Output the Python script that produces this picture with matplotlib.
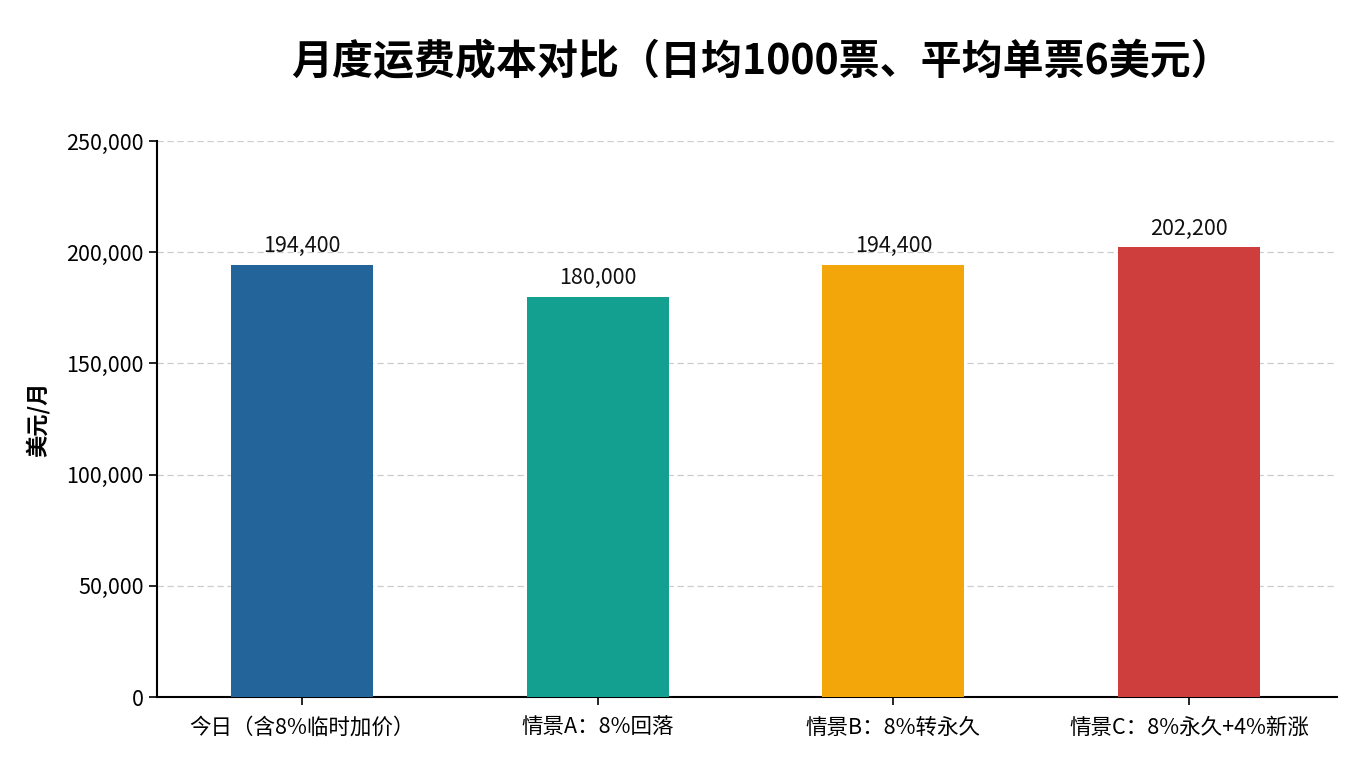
import matplotlib
matplotlib.use("Agg")
import matplotlib.pyplot as plt
from matplotlib.ticker import FuncFormatter

plt.rcParams['font.family'] = ['Noto Sans CJK SC', 'DejaVu Sans']

categories = ["今日（含8%临时加价）", "情景A：8%回落", "情景B：8%转永久", "情景C：8%永久+4%新涨"]
values = [194400, 180000, 194400, 202200]
colors = ["#23649A", "#14A090", "#F2A60A", "#CD3E3D"]
yticks = [0, 50000, 100000, 150000, 200000, 250000]

fig = plt.figure(figsize=(13.6, 7.68), dpi=100)
ax = fig.add_axes([157/1360, 1-697/768, (1337-157)/1360, (697-141)/768])

x = list(range(len(categories)))
bars = ax.bar(x, values, width=0.48, color=colors, zorder=3)
for xi, v in zip(x, values):
    ax.text(xi, v + 3500, f"{v:,}", ha="center", va="bottom", fontsize=15.5, color="#111111")

ax.set_xlim(-0.49, 3.5)
ax.set_ylim(0, 250000)
ax.set_yticks(yticks)
ax.yaxis.set_major_formatter(FuncFormatter(lambda v, p: f"{int(v):,}"))
ax.set_xticks(x)
ax.set_xticklabels(categories, fontsize=15.5)
ax.tick_params(axis="y", labelsize=15.5, length=6, width=1.2)
ax.tick_params(axis="x", length=6, width=1.2, pad=8)
ax.grid(axis="y", linestyle=(0, (5, 3)), color="#cccccc", linewidth=0.9, zorder=0)
for s in ["top", "right"]:
    ax.spines[s].set_visible(False)
for s in ["left", "bottom"]:
    ax.spines[s].set_linewidth(1.5)
ax.set_ylabel("美元/月", fontsize=16, fontweight="bold", labelpad=12)

fig.text(762/1360, 1-62/768, "月度运费成本对比（日均1000票、平均单票6美元）",
         ha="center", va="center", fontsize=29.5, fontweight="bold")

fig.savefig("out.png", dpi=100, facecolor="white")
